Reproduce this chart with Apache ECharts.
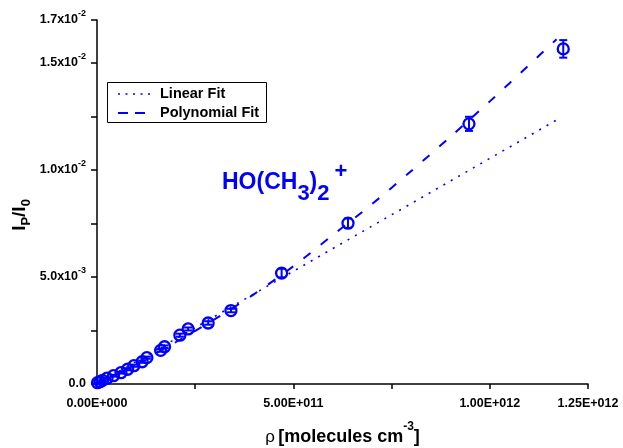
<!DOCTYPE html>
<html>
<head>
<meta charset="utf-8">
<script src="https://cdn.jsdelivr.net/npm/echarts@6/dist/echarts.min.js"></script>
<style>
  html, body { margin: 0; padding: 0; background: #fff; }
  #chart { width: 623px; height: 448px; }
</style>
</head>
<body>
<div id="chart"></div>
<script>
// Measured ion signal ratio vs. number density
const densities = [1.3e9, 7.6e9, 1.4e10, 2.55e10, 4.2e10, 6.1e10, 7.8e10, 9.4e10, 1.15e11, 1.27e11,
                   1.62e11, 1.72e11, 2.11e11, 2.32e11, 2.83e11, 3.41e11, 4.70e11, 6.39e11, 9.47e11, 1.187e12];
const ratios = [6e-5, 1.07e-4, 1.68e-4, 2.7e-4, 3.87e-4, 5.27e-4, 6.9e-4, 8.54e-4, 1.04e-3, 1.23e-3,
                1.57e-3, 1.74e-3, 2.28e-3, 2.57e-3, 2.85e-3, 3.43e-3, 5.18e-3, 7.51e-3, 1.215e-2, 1.565e-2];
const ratioErrors = [2e-5, 2e-5, 3e-5, 3e-5, 4e-5, 4e-5, 5e-5, 5e-5, 5e-5, 5e-5,
                     6e-5, 6e-5, 7e-5, 7e-5, 8e-5, 8e-5, 2.0e-4, 2.2e-4, 3.3e-4, 4.1e-4];

// Linear fit (end points)
const linearFitX = [0, 1.175e12];
const linearFitY = [0, 1.238e-2];

// Polynomial fit (sampled curve)
const polyFitX = [0, 1e11, 2e11, 3e11, 4e11, 5e11, 6e11, 7e11, 8e11, 9e11, 1e12, 1.1e12, 1.17e12];
const polyFitY = [0, 9.3e-4, 1.95e-3, 3.03e-3, 4.2e-3, 5.5e-3, 6.95e-3, 8.4e-3, 9.95e-3, 1.155e-2, 1.32e-2, 1.49e-2, 1.61e-2];

// Axis tick labels
const xTickValues = [0, 5e11, 1e12, 1.25e12];
const xTickLabels = ['0.00E+000', '5.00E+011', '1.00E+012', '1.25E+012'];
const yTickValues = [0, 0.005, 0.01, 0.015, 0.017];
const yTickMantissa = ['0.0', '5.0x10', '1.0x10', '1.5x10', '1.7x10'];
const yTickExponent = ['', '-3', '-2', '-2', '-2'];

const BLUE = '#0000ff';
const FONT = 'Liberation Sans, Arial, sans-serif';

const chart = echarts.init(document.getElementById('chart'), null, { renderer: 'canvas' });

const points = densities.map((d, i) => [d, ratios[i], ratioErrors[i]]);
const linearData = linearFitX.map((x, i) => [x, linearFitY[i]]);
const polyData = polyFitX.map((x, i) => [x, polyFitY[i]]);

function findIndex(arr, v, tol) {
  for (let i = 0; i < arr.length; i++) if (Math.abs(arr[i] - v) < tol) return i;
  return -1;
}

const option = {
  animation: false,
  backgroundColor: '#fff',
  grid: { left: 97, right: 35, top: 20, bottom: 64, containLabel: false, outerBoundsMode: 'none' },
  xAxis: {
    type: 'value',
    min: 0, max: 1.25e12, interval: 2.5e11,
    name: '{g|ρ} {n|[molecules cm}{s|-3}{n|]}',
    nameLocation: 'middle',
    nameGap: 37,
    nameTextStyle: {
      rich: {
        g: { fontFamily: FONT, fontSize: 17, color: '#000', lineHeight: 32, verticalAlign: 'middle' },
        n: { fontFamily: FONT, fontSize: 18, fontWeight: 'bold', color: '#000', lineHeight: 32, verticalAlign: 'middle' },
        s: { fontFamily: FONT, fontSize: 12, fontWeight: 'bold', color: '#000', verticalAlign: 'top' }
      }
    },
    axisLine: { show: true, onZero: false, lineStyle: { color: '#000', width: 1.5 } },
    axisTick: { show: true, inside: false, length: 5, lineStyle: { color: '#000', width: 1.5 } },
    splitLine: { show: false },
    axisLabel: {
      margin: 13,
      showMinLabel: true, showMaxLabel: true,
      color: '#000', fontFamily: FONT, fontWeight: 'bold', fontSize: 12.5,
      formatter: v => { const i = findIndex(xTickValues, v, 1e6); return i >= 0 ? xTickLabels[i] : ''; }
    }
  },
  yAxis: {
    type: 'value',
    min: 0, max: 0.017, interval: 0.0025,
    axisLine: { show: true, onZero: false, lineStyle: { color: '#000', width: 1.5 } },
    axisTick: { show: true, inside: false, length: 6, lineStyle: { color: '#000', width: 1.5 } },
    splitLine: { show: false },
    axisLabel: {
      margin: 11,
      showMinLabel: true, showMaxLabel: true,
      formatter: v => {
        const i = findIndex(yTickValues, v, 1e-7);
        if (i < 0) return '';
        return yTickExponent[i] ? '{m|' + yTickMantissa[i] + '}{s|' + yTickExponent[i] + '}' : '{m|' + yTickMantissa[i] + '}';
      },
      rich: {
        m: { fontFamily: FONT, fontWeight: 'bold', fontSize: 12.5, color: '#000', lineHeight: 22, verticalAlign: 'middle' },
        s: { fontFamily: FONT, fontWeight: 'bold', fontSize: 9, color: '#000', verticalAlign: 'top' }
      }
    }
  },
  series: [
    {
      name: 'Linear Fit',
      type: 'line',
      data: linearData,
      showSymbol: false,
      lineStyle: { color: BLUE, width: 1.6, type: [2, 6.5] },
      z: 2
    },
    {
      name: 'Polynomial Fit',
      type: 'line',
      data: polyData,
      smooth: 0.3,
      showSymbol: false,
      lineStyle: { color: BLUE, width: 2, type: [9, 13] },
      z: 2
    },
    {
      name: 'errors',
      type: 'custom',
      data: points,
      z: 3,
      renderItem: (params, api) => {
        const x = api.value(0), y = api.value(1), e = api.value(2);
        const top = api.coord([x, y + e]);
        const bot = api.coord([x, y - e]);
        const hw = 4;
        const st = { stroke: BLUE, lineWidth: 2 };
        return {
          type: 'group',
          children: [
            { type: 'line', shape: { x1: top[0], y1: top[1], x2: bot[0], y2: bot[1] }, style: st },
            { type: 'line', shape: { x1: top[0] - hw, y1: top[1], x2: top[0] + hw, y2: top[1] }, style: st },
            { type: 'line', shape: { x1: bot[0] - hw, y1: bot[1], x2: bot[0] + hw, y2: bot[1] }, style: st }
          ]
        };
      }
    },
    {
      name: 'data',
      type: 'scatter',
      data: points.map(p => [p[0], p[1]]),
      symbol: 'circle',
      symbolSize: 11,
      itemStyle: { color: 'rgba(0,0,0,0)', borderColor: BLUE, borderWidth: 2.3, opacity: 1 },
      z: 4
    }
  ],
  graphic: [
    // legend box
    { type: 'rect', shape: { x: 107.5, y: 82.5, width: 159, height: 40 }, style: { fill: '#fff', stroke: '#000', lineWidth: 1 }, z: 10 },
    { type: 'line', shape: { x1: 118, y1: 94, x2: 151, y2: 94 }, style: { stroke: BLUE, lineWidth: 1.6, lineDash: [2, 5.5] }, z: 11 },
    { type: 'line', shape: { x1: 118, y1: 113, x2: 146, y2: 113 }, style: { stroke: BLUE, lineWidth: 2, lineDash: [10, 7] }, z: 11 },
    { type: 'text', x: 160, y: 94, style: { text: 'Linear Fit', fill: '#000', font: 'bold 14.5px ' + FONT, verticalAlign: 'middle', align: 'left' }, z: 11 },
    { type: 'text', x: 160, y: 113, style: { text: 'Polynomial Fit', fill: '#000', font: 'bold 14.5px ' + FONT, verticalAlign: 'middle', align: 'left' }, z: 11 },
    // ion label
    {
      type: 'text', x: 222, y: 160.5, z: 11,
      style: {
        text: '{m|HO(CH}{b|3}{m|)}{b|2}{p|+}',
        align: 'left', verticalAlign: 'top',
        rich: {
          m: { fontFamily: FONT, fontWeight: 'bold', fontSize: 23, fill: BLUE, color: BLUE, lineHeight: 44, verticalAlign: 'middle' },
          b: { fontFamily: FONT, fontWeight: 'bold', fontSize: 22, fill: BLUE, color: BLUE, verticalAlign: 'bottom' },
          p: { fontFamily: FONT, fontWeight: 'bold', fontSize: 22, fill: BLUE, color: BLUE, verticalAlign: 'top', padding: [0, 0, 0, 5] }
        }
      }
    },
    // y axis title
    {
      type: 'text', x: 20, y: 215, rotation: Math.PI / 2, z: 11,
      style: {
        text: '{m|I}{b|P}{m|/I}{b|0}',
        align: 'center', verticalAlign: 'middle',
        rich: {
          m: { fontFamily: FONT, fontWeight: 'bold', fontSize: 19, fill: '#000', color: '#000', lineHeight: 26, verticalAlign: 'middle' },
          b: { fontFamily: FONT, fontWeight: 'bold', fontSize: 13, fill: '#000', color: '#000', verticalAlign: 'bottom' }
        }
      }
    }
  ]
};

chart.setOption(option);
</script>
</body>
</html>
